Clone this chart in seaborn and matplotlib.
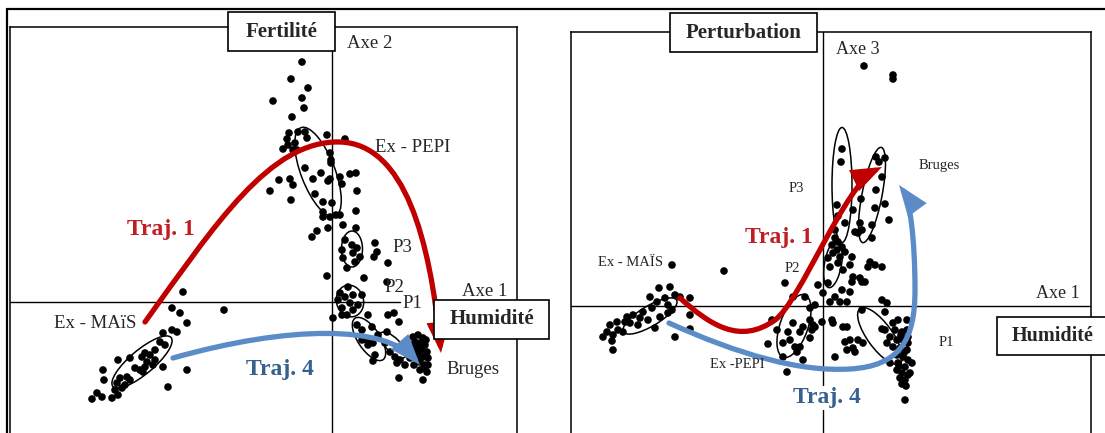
import matplotlib.pyplot as plt
import pandas as pd
import seaborn as sns
from matplotlib.patches import Ellipse, Rectangle, FancyArrowPatch, ArrowStyle
from matplotlib.path import Path
from matplotlib.lines import Line2D

sns.set_style('white')
plt.rcParams['font.family'] = ['Liberation Serif', 'DejaVu Serif']

# ---- panneau gauche : Axe 1 (humidite) x Axe 2 (fertilite) ----
L_PEPI = [(-0.30, 2.40), (-0.41, 2.23), (-0.24, 2.14), (-0.59, 2.01), (-0.30, 2.04), (-0.28, 1.94),
          (-0.40, 1.85), (-0.43, 1.69), (-0.45, 1.63), (-0.49, 1.53), (-0.34, 1.70), (-0.25, 1.64),
          (-0.05, 1.67), (0.13, 1.63), (-0.35, 1.52), (-0.44, 1.57), (-0.27, 1.70), (-0.37, 1.59),
          (-0.39, 1.52), (-0.02, 1.49), (-0.01, 1.42), (-0.01, 1.39), (-0.27, 1.34), (-0.11, 1.29),
          (-0.19, 1.23), (-0.04, 1.21), (-0.02, 1.23), (0.08, 1.25), (0.18, 1.28), (0.24, 1.29),
          (-0.53, 1.22), (-0.42, 1.23), (-0.39, 1.17), (-0.62, 1.11), (-0.17, 1.08), (0.10, 1.18),
          (0.25, 1.11), (-0.41, 1.02), (-0.09, 1.00), (0.00, 0.99), (-0.09, 0.90), (-0.09, 0.85),
          (-0.02, 0.85), (0.04, 0.87), (0.08, 0.87), (0.24, 0.91), (-0.04, 0.74), (-0.15, 0.71),
          (-0.20, 0.65), (0.11, 0.77), (0.24, 0.74)]
L_P3 = [(0.13, 0.62), (0.20, 0.57), (0.25, 0.54), (0.10, 0.52), (0.21, 0.49), (0.28, 0.45),
        (0.11, 0.44), (0.23, 0.40), (0.15, 0.34), (0.43, 0.59), (0.45, 0.50), (0.42, 0.45),
        (0.56, 0.39), (-0.05, 0.26), (0.32, 0.24), (0.55, 0.20)]
L_P2 = [(0.16, 0.15), (0.08, 0.09), (0.13, 0.05), (0.21, 0.07), (0.30, 0.07), (0.06, 0.02),
        (0.18, -0.01), (0.26, -0.03), (0.10, -0.06), (0.21, -0.08), (0.01, -0.16), (0.10, -0.13),
        (0.15, -0.13), (0.36, -0.13), (0.56, -0.13), (0.62, -0.11), (0.67, -0.20)]
L_P1 = [(0.25, -0.23), (0.30, -0.28), (0.40, -0.25), (0.30, -0.38), (0.35, -0.38), (0.41, -0.41),
        (0.46, -0.33), (0.55, -0.30), (0.36, -0.43), (0.43, -0.53), (0.41, -0.59), (0.53, -0.41),
        (0.58, -0.50), (0.63, -0.55), (0.68, -0.58), (0.73, -0.63), (0.65, -0.61), (0.76, -0.48)]
L_BRUGES = [(0.81, -0.35), (0.86, -0.33), (0.91, -0.36), (0.83, -0.40), (0.88, -0.41), (0.93, -0.43),
            (0.85, -0.46), (0.90, -0.48), (0.95, -0.50), (0.86, -0.53), (0.91, -0.55), (0.96, -0.56),
            (0.88, -0.60), (0.93, -0.63), (0.88, -0.68), (0.95, -0.70), (0.78, -0.56), (0.82, -0.63),
            (0.91, -0.78), (0.67, -0.76), (0.96, -0.63), (0.84, -0.50), (0.89, -0.45), (0.92, -0.66),
            (0.80, -0.44), (0.87, -0.57), (0.94, -0.38)]
L_MAIS = [(-1.49, 0.10), (-1.60, -0.06), (-1.52, -0.11), (-1.45, -0.21), (-1.60, -0.28), (-1.55, -0.30),
          (-1.69, -0.31), (-1.72, -0.40), (-1.67, -0.43), (-1.77, -0.48), (-1.82, -0.53), (-1.87, -0.51),
          (-1.90, -0.55), (-1.85, -0.60), (-1.77, -0.58), (-1.79, -0.63), (-1.87, -0.65), (-1.92, -0.68),
          (-1.89, -0.70), (-2.02, -0.56), (-2.14, -0.58), (-1.97, -0.66), (-1.69, -0.65), (-1.45, -0.68),
          (-2.29, -0.68), (-2.28, -0.78), (-2.05, -0.75), (-2.12, -0.76), (-2.15, -0.81), (-2.07, -0.83),
          (-2.02, -0.78), (-2.10, -0.86), (-2.17, -0.88), (-1.64, -0.85), (-2.35, -0.91), (-2.40, -0.97),
          (-2.30, -0.95), (-2.20, -0.96), (-2.14, -0.93), (-1.08, -0.08)]

# ellipses : centre x, centre y, largeur, hauteur, angle
L_ELLIPSES = [(-1.90, -0.60, 0.76, 0.24, 40), (-0.14, 1.30, 0.95, 0.34, -69),
              (0.20, 0.53, 0.21, 0.36, 0), (0.18, 0.01, 0.27, 0.32, 15),
              (0.37, -0.37, 0.50, 0.22, -56), (0.61, -0.43, 0.34, 0.14, -45)]
# trajectoires (points de controle de Bezier)
L_TRAJ1 = [(-1.87, -0.20), (-1.17, 0.77), (-0.62, 1.62), (0.08, 1.60), (0.73, 1.58), (0.98, 0.62), (1.09, -0.51)]
L_TRAJ4 = [(-1.59, -0.56), (-0.42, -0.23), (0.53, -0.23), (0.88, -0.63)]

# ---- panneau droit : Axe 1 (humidite) x Axe 3 (perturbation) ----
R_MAIS = [(-1.51, 0.41), (-1.64, 0.18), (-1.53, 0.19), (-1.48, 0.11), (-1.73, 0.09), (-1.66, 0.04),
          (-1.58, 0.08), (-1.55, 0.01), (-1.43, 0.09), (-1.33, 0.08), (-1.71, -0.02), (-1.80, -0.06),
          (-1.90, -0.09), (-1.83, -0.12), (-1.96, -0.11), (-1.98, -0.16), (-1.93, -0.17), (-1.85, -0.19),
          (-1.75, -0.14), (-1.63, -0.11), (-1.55, -0.07), (-1.51, -0.04), (-2.06, -0.16), (-2.13, -0.19),
          (-2.05, -0.24), (-2.16, -0.26), (-2.10, -0.29), (-2.00, -0.26), (-2.20, -0.31), (-2.11, -0.35),
          (-2.10, -0.44), (-1.48, -0.31), (-1.33, -0.09), (-1.68, -0.22), (-0.99, 0.35), (-1.33, -0.23)]
R_P3 = [(0.41, 2.40), (0.70, 2.31), (0.70, 2.27), (0.19, 1.57), (0.18, 1.44), (0.14, 1.01),
        (0.15, 0.90), (0.22, 0.83), (0.12, 0.76)]
R_BRUGES = [(0.53, 1.49), (0.56, 1.44), (0.62, 1.48), (0.59, 1.29), (0.53, 1.16), (0.38, 1.07),
            (0.62, 1.02), (0.52, 0.98), (0.49, 0.81), (0.66, 0.86), (0.30, 0.96), (0.37, 0.83),
            (0.32, 0.74), (0.35, 0.73), (0.39, 0.76), (0.49, 0.68)]
R_P2 = [(0.12, 0.68), (0.15, 0.64), (0.09, 0.61), (0.19, 0.59), (0.14, 0.56), (0.22, 0.54),
        (0.10, 0.53), (0.17, 0.49), (0.05, 0.48), (0.29, 0.49), (0.15, 0.43), (0.27, 0.41),
        (0.07, 0.39), (0.20, 0.36), (0.47, 0.44), (0.52, 0.41), (0.59, 0.39), (0.45, 0.39),
        (0.30, 0.29), (0.37, 0.28), (0.29, 0.24), (0.42, 0.24), (0.19, 0.16), (0.27, 0.14),
        (0.05, 0.23), (-0.05, 0.21), (0.00, 0.13), (0.12, 0.09), (0.07, 0.04), (-0.38, 0.23),
        (-0.30, 0.09), (-0.18, 0.09), (-0.08, 0.01), (-0.13, -0.02), (0.17, 0.04), (0.24, 0.04),
        (0.59, 0.06), (0.62, -0.06), (0.39, -0.04), (0.64, 0.03), (0.39, 0.24)]
R_PEPI = [(-0.13, -0.14), (-0.10, -0.19), (-0.20, -0.21), (-0.30, -0.17), (-0.35, -0.26), (-0.23, -0.26),
          (-0.11, -0.24), (0.09, -0.14), (0.10, -0.17), (0.24, -0.21), (0.27, -0.34), (0.22, -0.36),
          (0.35, -0.34), (0.30, -0.42), (0.24, -0.44), (0.12, -0.51), (-0.33, -0.34), (-0.28, -0.41),
          (-0.40, -0.37), (-0.40, -0.51), (-0.51, -0.14), (-0.46, -0.24), (-0.55, -0.38), (-0.23, -0.41),
          (-0.26, -0.46), (-0.20, -0.54), (-0.13, -0.32), (-0.36, -0.66), (-0.08, -0.21), (-0.01, -0.16),
          (0.32, -0.46), (0.20, -0.21), (0.40, -0.37), (0.59, -0.23)]
R_P1 = [(0.70, -0.17), (0.75, -0.14), (0.84, -0.14), (0.72, -0.24), (0.79, -0.26), (0.84, -0.24),
        (0.67, -0.31), (0.74, -0.34), (0.80, -0.34), (0.85, -0.37), (0.70, -0.41), (0.77, -0.42),
        (0.84, -0.44), (0.74, -0.49), (0.80, -0.51), (0.85, -0.54), (0.75, -0.57), (0.82, -0.61),
        (0.74, -0.64), (0.79, -0.67), (0.85, -0.69), (0.77, -0.72), (0.82, -0.74), (0.64, -0.37),
        (0.62, -0.24), (0.85, -0.31), (0.82, -0.94), (0.87, -0.67), (0.89, -0.57), (0.67, -0.57),
        (0.78, -0.29), (0.81, -0.47), (0.76, -0.60), (0.83, -0.80), (0.79, -0.78)]

R_ELLIPSES = [(-1.73, -0.10, 0.62, 0.20, 31), (0.19, 1.21, 0.20, 1.15, 0),
              (0.49, 1.11, 0.20, 0.97, -11), (0.10, 0.42, 0.17, 0.48, -10),
              (-0.29, -0.20, 0.28, 0.66, -19), (0.57, -0.30, 0.68, 0.25, -54)]
R_TRAJ1 = [(-1.43, 0.08), (-1.13, -0.19), (-0.83, -0.39), (-0.48, -0.14), (-0.23, 0.04), (0.22, 1.21), (0.59, 1.39)]
R_TRAJ4 = [(-1.54, -0.17), (-0.83, -0.49), (-0.23, -0.66), (0.27, -0.63), (0.77, -0.60), (0.92, -0.34),
           (0.92, 0.16), (0.92, 0.66), (0.87, 1.06), (0.76, 1.21)]

RED = '#C00000'
RED_TXT = '#BF1E24'
BLUE = '#5B8CC7'
BLUE_TXT = '#35608F'


def to_df(groups):
    rows = []
    for site, pts in groups.items():
        for x, y in pts:
            rows.append({'site': site, 'axe_x': x, 'axe_y': y})
    return pd.DataFrame(rows)


def traj(ax, pts, color):
    codes = [Path.MOVETO] + [Path.CURVE4] * (len(pts) - 1)
    arr = FancyArrowPatch(path=Path(pts, codes),
                          arrowstyle=ArrowStyle('-|>', head_length=0.75, head_width=0.28),
                          mutation_scale=20, lw=3.8, color=color, zorder=4, joinstyle='miter')
    ax.add_patch(arr)


def boxed(ax, x0, y0, w, h, label, tx=None, size=15):
    ax.add_patch(Rectangle((x0, y0), w, h, facecolor='white', edgecolor='black',
                           lw=1.2, clip_on=False, zorder=6))
    if tx is None:
        tx = x0 + w / 2
    ax.text(tx, y0 + h / 2, label, ha='center', va='center', fontsize=size,
            fontweight='bold', zorder=7, clip_on=False)


def panel(ax, df, ellipses, xlim, ylim, hline_end):
    sns.scatterplot(data=df, x='axe_x', y='axe_y', color='black', s=30, edgecolor='none',
                    legend=False, ax=ax, zorder=3)
    ax.set_xlim(xlim)
    ax.set_ylim(ylim)
    ax.set_xticks([])
    ax.set_yticks([])
    ax.set_xlabel('')
    ax.set_ylabel('')
    for side in ['left', 'top', 'right']:
        ax.spines[side].set_color('black')
        ax.spines[side].set_linewidth(1.1)
    ax.spines['bottom'].set_visible(False)
    ax.axvline(0, color='black', lw=1, zorder=1)
    ax.axhline(0, xmax=hline_end, color='black', lw=1, zorder=1)
    for cx, cy, w, h, a in ellipses:
        ax.add_patch(Ellipse((cx, cy), w, h, angle=a, fill=False, edgecolor='black', lw=1.1, zorder=2))


fig = plt.figure(figsize=(11.05, 4.33), dpi=100)
fig.add_artist(Line2D([7 / 1105, 1], [1 - 9 / 433, 1 - 9 / 433], color='black', lw=1.6))
fig.add_artist(Line2D([7 / 1105, 7 / 1105], [0, 1 - 9 / 433], color='black', lw=1.6))

# panneau gauche
axL = fig.add_axes([10 / 1105, 0, 507 / 1105, 406 / 433])
dfL = to_df({'Ex - MAïS': L_MAIS, 'Ex - PEPI': L_PEPI, 'P3': L_P3, 'P2': L_P2, 'P1': L_P1, 'Bruges': L_BRUGES})
panel(axL, dfL, L_ELLIPSES, (-3.22, 1.85), (-1.31, 2.75), 390 / 507)
traj(axL, L_TRAJ1, RED)
traj(axL, L_TRAJ4, BLUE)
boxed(axL, -1.04, 2.51, 1.07, 0.39, 'Fertilité')
boxed(axL, 1.02, -0.37, 1.15, 0.39, 'Humidité')
for x, y, s in [(0.38, 2.59, 'Axe 2'), (0.81, 1.55, 'Ex - PEPI'), (0.70, 0.55, 'P3'),
                (0.62, 0.14, 'P2'), (0.80, -0.01, 'P1'), (1.53, 0.10, 'Axe 1'),
                (-2.37, -0.21, 'Ex - MAïS'), (1.41, -0.67, 'Bruges')]:
    axL.text(x, y, s, ha='center', va='center', fontsize=13.5, zorder=7, clip_on=False)
axL.text(-1.71, 0.72, 'Traj. 1', ha='center', va='center', fontsize=17, fontweight='bold', color=RED_TXT)
axL.text(-0.52, -0.68, 'Traj. 4', ha='center', va='center', fontsize=17, fontweight='bold', color=BLUE_TXT)

# panneau droit
axR = fig.add_axes([571 / 1105, 0, 520 / 1105, 401 / 433])
dfR = to_df({'Ex - MAÏS': R_MAIS, 'Ex -PEPI': R_PEPI, 'P3': R_P3, 'P2': R_P2, 'P1': R_P1, 'Bruges': R_BRUGES})
panel(axR, dfR, R_ELLIPSES, (-2.52, 2.68), (-1.27, 2.74), 1.0)
traj(axR, R_TRAJ1, RED)
traj(axR, R_TRAJ4, BLUE)
boxed(axR, -1.53, 2.54, 1.47, 0.39, 'Perturbation')
boxed(axR, 1.74, -0.49, 1.40, 0.38, 'Humidité', tx=2.30, size=14.5)
axR.text(0.35, 2.56, 'Axe 3', ha='center', va='center', fontsize=13, zorder=7)
axR.text(2.35, 0.13, 'Axe 1', ha='center', va='center', fontsize=13, zorder=7)
for x, y, s in [(1.16, 1.41, 'Bruges'), (-0.27, 1.18, 'P3'), (-1.92, 0.44, 'Ex - MAÏS'),
                (-0.31, 0.37, 'P2'), (1.23, -0.37, 'P1'), (-0.86, -0.59, 'Ex -PEPI')]:
    axR.text(x, y, s, ha='center', va='center', fontsize=10.5, zorder=7)
axR.text(-0.44, 0.68, 'Traj. 1', ha='center', va='center', fontsize=17, fontweight='bold',
         color=RED_TXT, zorder=7)
axR.text(0.04, -0.92, 'Traj. 4', ha='center', va='center', fontsize=17, fontweight='bold',
         color=BLUE_TXT, zorder=7, bbox=dict(facecolor='white', edgecolor='none', pad=1))

fig.savefig('out.png', dpi=100)
